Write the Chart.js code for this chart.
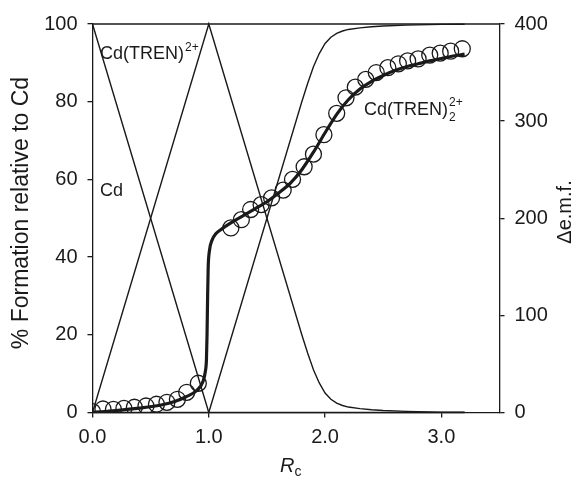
<!DOCTYPE html>
<html>
<head>
<meta charset="utf-8">
<script src="https://cdn.jsdelivr.net/npm/chart.js@4.4.1/dist/chart.umd.min.js"></script>
<style>
  html, body { margin: 0; padding: 0; background: #fff; }
  #wrap { width: 578px; height: 478px; }
</style>
</head>
<body>
<div id="wrap"><canvas id="myChart" width="578" height="478"></canvas></div>
<script>
// species distribution, % formation relative to Cd (left axis)
const speciesX = [0, 1, 1.5, 1.8, 1.85, 1.9, 1.95, 2.0, 2.05, 2.1, 2.15, 2.2, 2.3, 2.4, 2.5, 2.7, 3.0, 3.2];
const cdFree   = [100, 0, 0, 0, 0, 0, 0, 0, 0, 0, 0, 0, 0, 0, 0, 0, 0, 0];
const cdTren   = [0, 100, 50, 20, 15.3, 11, 7.6, 5.0, 3.4, 2.4, 1.8, 1.4, 1.0, 0.7, 0.5, 0.3, 0.1, 0.05];
const cdTren2  = [0, 0, 50, 80, 84.7, 89, 92.4, 95.0, 96.6, 97.6, 98.2, 98.6, 99.0, 99.3, 99.5, 99.7, 99.9, 99.95];

// measured delta e.m.f. (right axis)
const rcMeasured  = [0, 0.09, 0.18, 0.27, 0.36, 0.46, 0.55, 0.64, 0.73, 0.81, 0.91,
                     1.19, 1.28, 1.36, 1.45, 1.54, 1.64, 1.72, 1.82, 1.90, 1.99, 2.10, 2.18,
                     2.26, 2.35, 2.44, 2.54, 2.63, 2.71, 2.80, 2.90, 2.99, 3.08, 3.18];
const emfMeasured = [0.8, 3.6, 3.3, 4.3, 5.4, 6.7, 8.5, 10.5, 13.6, 20.8, 30.1,
                     190, 198.5, 209, 214, 221, 229, 240, 253, 266, 286, 308, 324,
                     335, 343, 350, 355, 359, 362, 364, 368, 370, 372, 374.5];

// fitted curve
const rcFit  = [0, 0.2, 0.4, 0.6, 0.7, 0.8, 0.9, 0.95, 0.97, 0.98, 0.985, 0.99, 0.995, 1.005, 1.03, 1.06, 1.1,
                1.2, 1.3, 1.4, 1.5, 1.6, 1.7, 1.8, 1.9, 2.0, 2.1, 2.2, 2.3, 2.4, 2.5, 2.6, 2.7, 2.8, 2.9, 3.0, 3.1, 3.2];
const emfFit = [0, 2, 4.5, 8, 11, 16, 23, 32, 42, 55, 80, 120, 150, 166, 178, 184, 188,
                196, 203, 210, 217, 226, 236, 250, 268, 288, 307, 322, 333, 341, 347, 352, 356, 359, 362, 364.5, 367, 369];

const xTicks = [0, 1, 2, 3];
const ink = '#1a1a1a';

function pts(xs, ys) {
  return xs.map((x, i) => ({ x: x, y: ys[i] }));
}

// frame top edge + annotation texts
const decor = {
  id: 'decor',
  afterDraw(chart) {
    const ctx = chart.ctx;
    const a = chart.chartArea;
    ctx.save();
    ctx.strokeStyle = ink;
    ctx.lineWidth = 1.3;
    ctx.beginPath();
    ctx.moveTo(a.left, a.top);
    ctx.lineTo(a.right, a.top);
    ctx.stroke();

    ctx.fillStyle = ink;
    ctx.textBaseline = 'alphabetic';
    ctx.textAlign = 'left';

    // Cd(TREN)2+
    ctx.font = '18px "Liberation Sans", Arial, sans-serif';
    ctx.fillText('Cd(TREN)', 100, 59);
    let w = ctx.measureText('Cd(TREN)').width;
    ctx.font = '12px "Liberation Sans", Arial, sans-serif';
    ctx.fillText('2+', 100 + w + 1, 51);

    // Cd
    ctx.font = '18px "Liberation Sans", Arial, sans-serif';
    ctx.fillText('Cd', 100, 196);

    // Cd(TREN)2 2+
    ctx.fillText('Cd(TREN)', 364, 115);
    w = ctx.measureText('Cd(TREN)').width;
    ctx.font = '12px "Liberation Sans", Arial, sans-serif';
    ctx.fillText('2+', 364 + w + 1, 106);
    ctx.fillText('2', 364 + w + 1, 121);

    // x title: R italic with subscript c
    ctx.font = 'italic 20px "Liberation Sans", Arial, sans-serif';
    ctx.fillText('R', 280, 472);
    w = ctx.measureText('R').width;
    ctx.font = '14px "Liberation Sans", Arial, sans-serif';
    ctx.fillText('c', 280 + w, 476);

    // left title
    ctx.save();
    ctx.translate(22, 213);
    ctx.rotate(-Math.PI / 2);
    ctx.textAlign = 'center';
    ctx.textBaseline = 'middle';
    ctx.font = '23px "Liberation Sans", Arial, sans-serif';
    ctx.fillText('% Formation relative to Cd', 0, 0);
    ctx.restore();

    // right title
    ctx.save();
    ctx.translate(565, 212);
    ctx.rotate(-Math.PI / 2);
    ctx.textAlign = 'center';
    ctx.textBaseline = 'middle';
    ctx.font = '20px "Liberation Sans", Arial, sans-serif';
    ctx.fillText('\u0394e.m.f.', 0, 0);
    ctx.restore();

    ctx.restore();
  }
};

const tickFont = { family: '"Liberation Sans", Arial, sans-serif', size: 20 };

new Chart('myChart', {
  type: 'line',
  data: {
    datasets: [
      {
        label: 'measured',
        type: 'scatter',
        data: pts(rcMeasured, emfMeasured),
        yAxisID: 'y2',
        showLine: false,
        pointStyle: 'circle',
        pointRadius: 8,
        pointBorderWidth: 1.3,
        pointBorderColor: ink,
        pointBackgroundColor: 'rgba(0,0,0,0)'
      },
      {
        label: 'fit',
        data: pts(rcFit, emfFit),
        yAxisID: 'y2',
        borderColor: ink,
        borderWidth: 3.2,
        pointRadius: 0,
        cubicInterpolationMode: 'monotone'
      },
      {
        label: 'Cd',
        data: pts(speciesX, cdFree),
        yAxisID: 'y',
        borderColor: ink,
        borderWidth: 1.4,
        pointRadius: 0,
        tension: 0,
        clip: 4
      },
      {
        label: 'Cd(TREN)',
        data: pts(speciesX, cdTren),
        yAxisID: 'y',
        borderColor: ink,
        borderWidth: 1.4,
        pointRadius: 0,
        tension: 0,
        clip: 4
      },
      {
        label: 'Cd(TREN)2',
        data: pts(speciesX, cdTren2),
        yAxisID: 'y',
        borderColor: ink,
        borderWidth: 1.4,
        pointRadius: 0,
        tension: 0,
        clip: 4
      }
    ]
  },
  options: {
    responsive: false,
    animation: false,
    layout: { padding: { top: 24, bottom: 0, left: 0, right: 0 } },
    plugins: {
      legend: { display: false },
      tooltip: { enabled: false }
    },
    scales: {
      x: {
        type: 'linear',
        position: 'bottom',
        min: 0,
        max: 3.5,
        afterBuildTicks: s => { s.ticks = xTicks.map(v => ({ value: v })); },
        afterFit: s => { s.height = 65.5; },
        ticks: { callback: v => v.toFixed(1), font: tickFont, color: ink, padding: 8, maxRotation: 0 },
        grid: { drawOnChartArea: false, tickLength: 5, color: ink, lineWidth: 1.3 },
        border: { color: ink, width: 1.3 }
      },
      y: {
        position: 'left',
        min: 0,
        max: 100,
        afterFit: s => { s.width = 92.5; },
        ticks: { stepSize: 20, font: tickFont, color: ink, padding: 10 },
        grid: { drawOnChartArea: false, tickLength: 5, color: ink, lineWidth: 1.3 },
        border: { color: ink, width: 1.3 }
      },
      y2: {
        position: 'right',
        min: 0,
        max: 400,
        afterFit: s => { s.width = 78.5; },
        ticks: { stepSize: 100, font: tickFont, color: ink, padding: 10 },
        grid: { drawOnChartArea: false, tickLength: 5, color: ink, lineWidth: 1.3 },
        border: { color: ink, width: 1.3 }
      }
    }
  },
  plugins: [decor]
});
</script>
</body>
</html>
